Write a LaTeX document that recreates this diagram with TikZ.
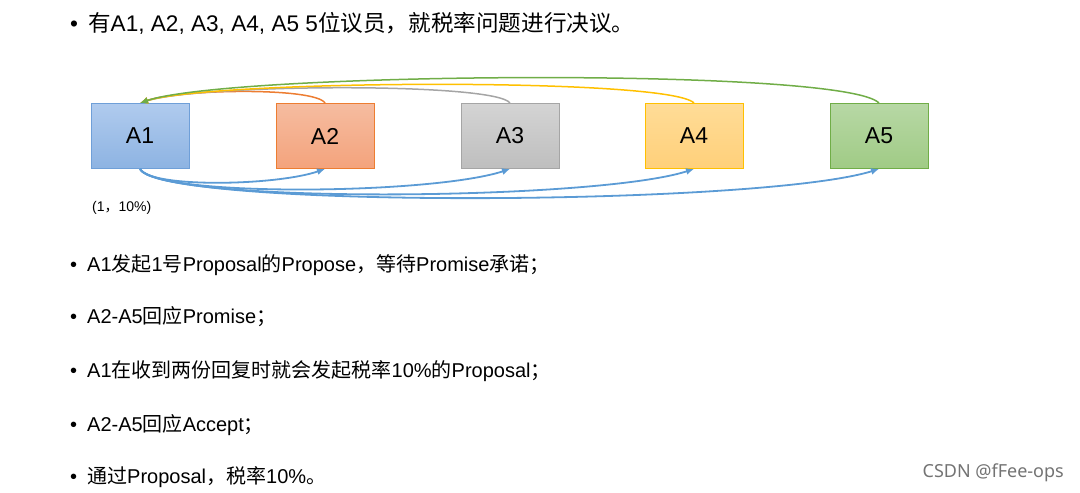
\documentclass[tikz,border=0pt]{standalone}
\usepackage{fontspec}
\setmainfont{Liberation Sans}
\newfontfamily\zhfont{Noto Sans CJK SC}
\newfontfamily\wmfont{Noto Sans}
\usepackage{xcolor}
\usetikzlibrary{arrows.meta}

\newcommand{\zh}[1]{{\zhfont #1}}

\definecolor{aonetop}{HTML}{B0CBEE}
\definecolor{aonebot}{HTML}{8DB3E2}
\definecolor{aoneline}{HTML}{6F9FD8}
\definecolor{atwotop}{HTML}{F5BCA0}
\definecolor{atwobot}{HTML}{F4A37C}
\definecolor{atwoline}{HTML}{ED7D31}
\definecolor{athreetop}{HTML}{D4D4D4}
\definecolor{athreebot}{HTML}{BEBEBE}
\definecolor{athreeline}{HTML}{A5A5A5}
\definecolor{afourtop}{HTML}{FFDC97}
\definecolor{afourbot}{HTML}{FFD07A}
\definecolor{afourline}{HTML}{FFC000}
\definecolor{afivetop}{HTML}{B7D8A5}
\definecolor{afivebot}{HTML}{A0CB85}
\definecolor{afiveline}{HTML}{70AD47}
\definecolor{sendblue}{HTML}{5B9BD5}

\begin{document}
\begin{tikzpicture}[x=1pt, y=-1pt,
    member/.style={draw, line width=1pt, minimum width=98pt, minimum height=65pt,
        inner sep=0pt, font=\fontsize{23}{26}\selectfont},
    item/.style={anchor=base west, inner sep=0pt, font=\fontsize{20}{24}\selectfont},
    reply/.style={line width=1.5pt, -{Latex[length=8pt,width=7pt]}},
    send/.style={line width=1.8pt, sendblue, -{Latex[length=8pt,width=7pt]}}]
    \useasboundingbox (0,0) rectangle (1080,493);

    % Title line
    \node[item, font=\fontsize{22.6}{26}\selectfont] (title) at (70,31) {•\hspace{10pt}\zh{有}A1, A2, A3, A4, A5 5\zh{位议员，就税率问题进行决议。}};

    % Members
    \node[member, draw=aoneline, top color=aonetop, bottom color=aonebot] (a1) at (140,136) {A1};
    \node[member, draw=atwoline, top color=atwotop, bottom color=atwobot] (a2) at (325,136) {A2};
    \node[member, draw=athreeline, top color=athreetop, bottom color=athreebot] (a3) at (510,136) {A3};
    \node[member, draw=afourline, top color=afourtop, bottom color=afourbot] (a4) at (694,136) {A4};
    \node[member, draw=afiveline, top color=afivetop, bottom color=afivebot] (a5) at (879,136) {A5};

    % Promise back to A1
    \draw[reply, atwoline] (a2.north) .. controls +(-10,-16) and +(40,-14) .. (a1.north);
    \draw[reply, athreeline] (a3.north) .. controls +(-15,-21) and +(60,-19) .. (a1.north);
    \draw[reply, afourline] (a4.north) .. controls +(-25,-26) and +(70,-23) .. (a1.north);
    \draw[reply, afiveline] (a5.north) .. controls +(-35,-36) and +(90,-31) .. (a1.north);

    % Proposal from A1
    \draw[send] (a1.south) .. controls +(10,19) and +(-50,17) .. (a2.south);
    \draw[send] (a1.south) .. controls +(15,28) and +(-80,26) .. (a3.south);
    \draw[send] (a1.south) .. controls +(20,35) and +(-100,32) .. (a4.south);
    \draw[send] (a1.south) .. controls +(25,40) and +(-120,37) .. (a5.south);

    \node[anchor=base west, inner sep=0pt, font=\fontsize{14}{16}\selectfont] (value) at (92,211) {(1\zh{，}10\%)};

    % Steps
    \node[item] (s1) at (70,271) {•\hspace{10pt}A1\zh{发起}1\zh{号}Proposal\zh{的}Propose\zh{，等待}Promise\zh{承诺；}};
    \node[item] (s2) at (70,323) {•\hspace{10pt}A2-A5\zh{回应}Promise\zh{；}};
    \node[item] (s3) at (70,377) {•\hspace{10pt}A1\zh{在收到两份回复时就会发起税率}10\%\zh{的}Proposal\zh{；}};
    \node[item] (s4) at (70,431) {•\hspace{10pt}A2-A5\zh{回应}Accept\zh{；}};
    \node[item] (s5) at (70,483) {•\hspace{10pt}\zh{通过}Proposal\zh{，税率}10\%\zh{。}};

    \node[anchor=base east, inner sep=0pt, text=black!55, font=\wmfont\fontsize{18}{20}\selectfont] (mark) at (1064,477) {CSDN @fFee-ops};
\end{tikzpicture}
\end{document}
